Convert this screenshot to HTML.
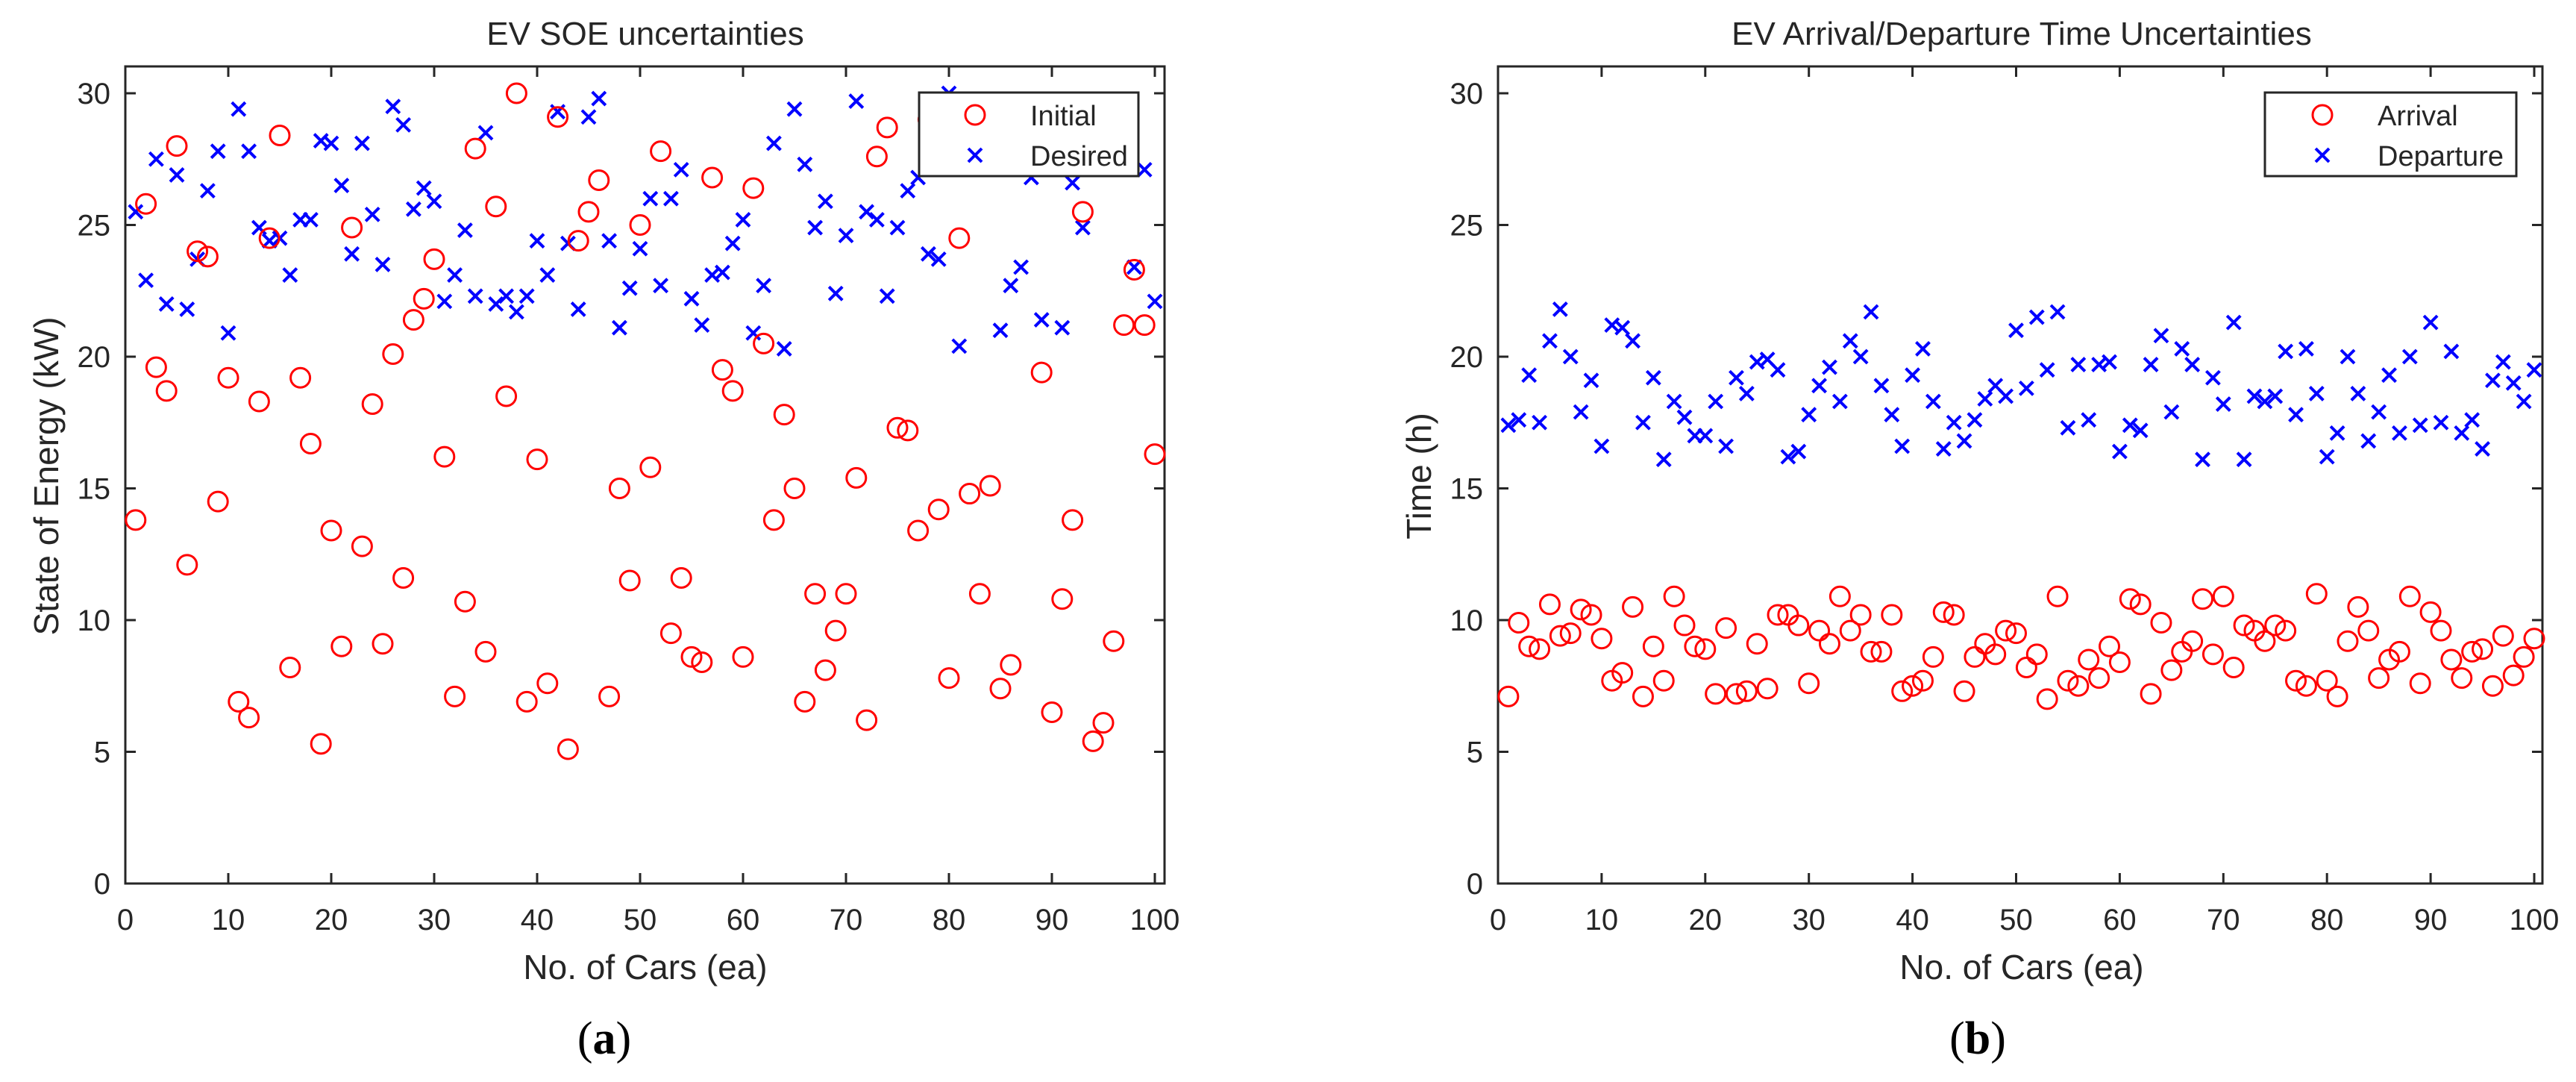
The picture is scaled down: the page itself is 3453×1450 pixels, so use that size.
<!DOCTYPE html>
<html><head><meta charset="utf-8"><style>
html,body{margin:0;padding:0;background:#fff;}
svg{display:block;}
text{font-family:"Liberation Sans",Arial,sans-serif;fill:#262626;}
</style></head><body>
<svg id="fig" width="3453" height="1450" viewBox="0 0 3453 1450" xmlns="http://www.w3.org/2000/svg"></svg>
<script>
const carIndex = Array.from({length:100},(_,i)=>i+1);
const xTicks = [0,10,20,30,40,50,60,70,80,90,100];
const yTicks = [0,5,10,15,20,25,30];
const soeInitial = [13.8,25.8,19.6,18.7,28.0,12.1,24.0,23.8,14.5,19.2,6.9,6.3,18.3,24.5,28.4,8.2,19.2,16.7,5.3,13.4,9.0,24.9,12.8,18.2,9.1,20.1,11.6,21.4,22.2,23.7,16.2,7.1,10.7,27.9,8.8,25.7,18.5,30.0,6.9,16.1,7.6,29.1,5.1,24.4,25.5,26.7,7.1,15.0,11.5,25.0,15.8,27.8,9.5,11.6,8.6,8.4,26.8,19.5,18.7,8.6,26.4,20.5,13.8,17.8,15.0,6.9,11.0,8.1,9.6,11.0,15.4,6.2,27.6,28.7,17.3,17.2,13.4,29.0,14.2,7.8,24.5,14.8,11.0,15.1,7.4,8.3,29.5,27.5,19.4,6.5,10.8,13.8,25.5,5.4,6.1,9.2,21.2,23.3,21.2,16.3];
const soeDesired = [25.5,22.9,27.5,22.0,26.9,21.8,23.7,26.3,27.8,20.9,29.4,27.8,24.9,24.4,24.5,23.1,25.2,25.2,28.2,28.1,26.5,23.9,28.1,25.4,23.5,29.5,28.8,25.6,26.4,25.9,22.1,23.1,24.8,22.3,28.5,22.0,22.3,21.7,22.3,24.4,23.1,29.3,24.3,21.8,29.1,29.8,24.4,21.1,22.6,24.1,26.0,22.7,26.0,27.1,22.2,21.2,23.1,23.2,24.3,25.2,20.9,22.7,28.1,20.3,29.4,27.3,24.9,25.9,22.4,24.6,29.7,25.5,25.2,22.3,24.9,26.3,26.8,23.9,23.7,30.0,20.4,28.5,29.2,27.8,21.0,22.7,23.4,26.8,21.4,28.9,21.1,26.6,24.9,28.0,29.0,27.5,28.4,23.4,27.1,22.1];
const arrivalTime = [7.1,9.9,9.0,8.9,10.6,9.4,9.5,10.4,10.2,9.3,7.7,8.0,10.5,7.1,9.0,7.7,10.9,9.8,9.0,8.9,7.2,9.7,7.2,7.3,9.1,7.4,10.2,10.2,9.8,7.6,9.6,9.1,10.9,9.6,10.2,8.8,8.8,10.2,7.3,7.5,7.7,8.6,10.3,10.2,7.3,8.6,9.1,8.7,9.6,9.5,8.2,8.7,7.0,10.9,7.7,7.5,8.5,7.8,9.0,8.4,10.8,10.6,7.2,9.9,8.1,8.8,9.2,10.8,8.7,10.9,8.2,9.8,9.6,9.2,9.8,9.6,7.7,7.5,11.0,7.7,7.1,9.2,10.5,9.6,7.8,8.5,8.8,10.9,7.6,10.3,9.6,8.5,7.8,8.8,8.9,7.5,9.4,7.9,8.6,9.3];
const departureTime = [17.4,17.6,19.3,17.5,20.6,21.8,20.0,17.9,19.1,16.6,21.2,21.1,20.6,17.5,19.2,16.1,18.3,17.7,17.0,17.0,18.3,16.6,19.2,18.6,19.8,19.9,19.5,16.2,16.4,17.8,18.9,19.6,18.3,20.6,20.0,21.7,18.9,17.8,16.6,19.3,20.3,18.3,16.5,17.5,16.8,17.6,18.4,18.9,18.5,21.0,18.8,21.5,19.5,21.7,17.3,19.7,17.6,19.7,19.8,16.4,17.4,17.2,19.7,20.8,17.9,20.3,19.7,16.1,19.2,18.2,21.3,16.1,18.5,18.3,18.5,20.2,17.8,20.3,18.6,16.2,17.1,20.0,18.6,16.8,17.9,19.3,17.1,20.0,17.4,21.3,17.5,20.2,17.1,17.6,16.5,19.1,19.8,19.0,18.3,19.5];

const NS='http://www.w3.org/2000/svg';
const svg=document.getElementById('fig');
function mk(tag,attrs,parent){const e=document.createElementNS(NS,tag);for(const k in attrs)e.setAttribute(k,attrs[k]);(parent||svg).appendChild(e);return e;}

function panel(p){
  const g=mk('g',{});
  
  
  const sx=v=>p.x0+v*p.kx, sy=v=>1184-v*35.3;
  const top=89,bot=1184;
  // title
  const t=mk('text',{x:p.tx,y:60,'font-size':44,'text-anchor':'middle'},g);t.textContent=p.title;
  
  
  // ticks
  xTicks.forEach(v=>{
    const x=sx(v);
    mk('line',{x1:x,y1:bot,x2:x,y2:bot-14,stroke:'#262626','stroke-width':3},g);
    mk('line',{x1:x,y1:top,x2:x,y2:top+14,stroke:'#262626','stroke-width':3},g);
    const l=mk('text',{x:x,y:1246,'font-size':40,'text-anchor':'middle'},g);l.textContent=v;
    
    
  });
  yTicks.forEach(v=>{
    const y=sy(v);
    mk('line',{x1:p.x0,y1:y,x2:p.x0+14,y2:y,stroke:'#262626','stroke-width':3},g);
    mk('line',{x1:p.xr,y1:y,x2:p.xr-14,y2:y,stroke:'#262626','stroke-width':3},g);
    const l=mk('text',{x:p.x0-20,y:y+14,'font-size':40,'text-anchor':'end'},g);l.textContent=v;
    
    
  });
  const box=mk('rect',{x:p.x0,y:top,width:p.xr-p.x0,height:bot-top,fill:'none',stroke:'#262626','stroke-width':3},g);
  
  
  // axis labels
  const xl=mk('text',{x:p.tx,y:1312,'font-size':46,'text-anchor':'middle'},g);xl.textContent='No. of Cars (ea)';
  
  
  const yl=mk('text',{x:0,y:0,'font-size':46,'text-anchor':'middle',transform:`translate(${p.ylx},638) rotate(-90)`},g);yl.textContent=p.ylabel;
  
  
  // series
  carIndex.forEach((c,i)=>{
    const cx=sx(c), cy=sy(p.s2[i]);
    const m=mk('path',{d:`M${cx-9},${cy-9}L${cx+9},${cy+9}M${cx-9},${cy+9}L${cx+9},${cy-9}`,stroke:'#0000ff','stroke-width':4,fill:'none'},g);
    
    
  });
  carIndex.forEach((c,i)=>{
    const m=mk('circle',{cx:sx(c),cy:sy(p.s1[i]),r:13,stroke:'#ff0000','stroke-width':3,fill:'none'},g);
    
    
  });
  // legend
  const lg=mk('g',{},g);
  
  
  mk('rect',{x:p.lx,y:124,width:p.lw,height:112,fill:'#fff',stroke:'#262626','stroke-width':3},lg);
  mk('circle',{cx:p.mx,cy:154,r:13,stroke:'#ff0000','stroke-width':3,fill:'none'},lg);
  const mx=p.mx,my=208;
  mk('path',{d:`M${mx-9},${my-9}L${mx+9},${my+9}M${mx-9},${my+9}L${mx+9},${my-9}`,stroke:'#0000ff','stroke-width':4},lg);
  const a=mk('text',{x:p.ltx,y:168,'font-size':38,fill:'#000'},lg);a.textContent=p.n1;
  
  
  const b=mk('text',{x:p.ltx,y:222,'font-size':38,fill:'#000'},lg);b.textContent=p.n2;
  
  
  // caption
  const cap=mk('text',{x:p.cx,y:1412,'font-size':62,'text-anchor':'middle',style:'font-family:"Liberation Serif",serif;fill:#000'},g);
  cap.innerHTML='(<tspan font-weight="bold">'+p.cap+'</tspan>)';
  
  
}
panel({name:'soe-panel',x0:168,kx:13.8,xr:1561,tx:865,title:'EV SOE uncertainties',ylabel:'State of Energy (kW)',ylx:78,
  s1:soeInitial,s2:soeDesired,n1:'Initial',n2:'Desired',lx:1232,lw:294,mx:1307,ltx:1381,cx:810,cap:'a'});
panel({name:'time-panel',x0:2008,kx:13.89,xr:3408,tx:2710,title:'EV Arrival/Departure Time Uncertainties',ylabel:'Time (h)',ylx:1918,
  s1:arrivalTime,s2:departureTime,n1:'Arrival',n2:'Departure',lx:3036,lw:337,mx:3113,ltx:3187,cx:2651,cap:'b'});
</script>
</body></html>
